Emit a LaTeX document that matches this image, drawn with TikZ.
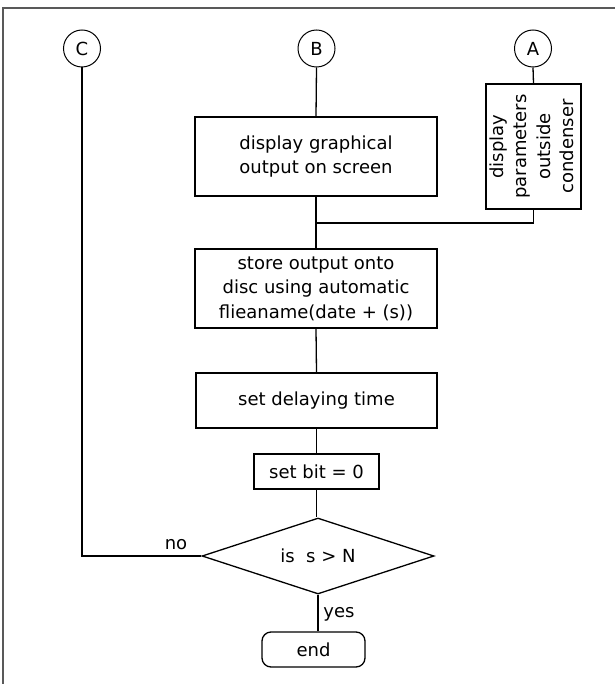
\documentclass[tikz,border=0pt]{standalone}
\usepackage{fontspec}
\setmainfont{DejaVu Sans}
\usetikzlibrary{shapes.geometric}
\begin{document}
\begin{tikzpicture}[x=1pt,y=-1pt,
  every node/.style={font=\fontsize{18}{24.5}\selectfont, inner sep=0pt},
  stepbox/.style={draw, line width=1.3pt, align=center},
  conn/.style={draw, circle, line width=1pt, minimum size=37pt},
  link/.style={line width=1.3pt},
  lbl/.style={font=\fontsize{18}{20}\selectfont}]
\useasboundingbox (0,0) rectangle (615,684);
\draw[gray!70!black, line width=2pt] (3,684) -- (3,8) -- (615,8);

\node[conn] (C) at (82,48.5) {C};
\node[conn] (B) at (316.5,48.5) {B};
\node[conn] (A) at (533,48.5) {A};

\node[stepbox, minimum width=242pt, minimum height=79pt] (disp) at (316,156.5)
  {display graphical\\output on screen};
\node[stepbox, minimum width=91pt, minimum height=125pt] (par) at (533.5,146.5)
  {\rotatebox{90}{\begin{tabular}{@{}c@{}}display\\[-1pt]parameters\\[-1pt]outside\\[-1pt]condenser\end{tabular}}};
\node[stepbox, minimum width=242pt, minimum height=79pt] (store) at (316,288.5)
  {store output onto\\disc using automatic\\flieaname(date + (s))};
\node[stepbox, minimum width=241pt, minimum height=55pt] (delay) at (316.5,400.5)
  {set delaying time};
\node[stepbox, minimum width=125pt, minimum height=35pt] (bit) at (316.5,471.5)
  {set bit = 0};
\node[draw, diamond, line width=1.3pt, minimum width=232pt, minimum height=76pt, aspect=3] (dec) at (318,556)
  {is\ \ s > N};
\node[draw, rounded corners=9pt, line width=1.3pt, minimum width=103pt, minimum height=35pt] (end) at (313.5,649.5)
  {end};

\coordinate (J) at (316.5,223);

\draw[link] (B.south) -- (disp.north);
\draw[link] (A.south) -- (par.north);
\draw[link] (disp.south) -- (store.north);
\draw[link] (par.south) |- (J);
\draw[link] (store.south) -- (delay.north);
\draw[link] (delay.south) -- (bit.north);
\draw[link] (bit.south) -- (bit.south |- dec.north);
\draw[link] (C.south) |- (dec.west);
\draw[link] (dec.south) -- (dec.south |- end.north);

\node[lbl] (no) at (176,545) {no};
\node[lbl] (yes) at (339,614) {yes};
\end{tikzpicture}
\end{document}
